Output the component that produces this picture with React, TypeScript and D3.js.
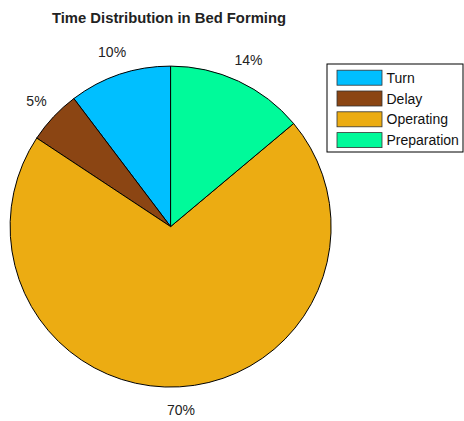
import React from "react";
import * as d3 from "d3";

// Shares of working time (percent)
const categories = ["Turn", "Delay", "Operating", "Preparation"];
const shares = [10.3, 5.4, 70.4, 13.9];
const colors = ["#00BFFF", "#8B4513", "#ECAC12", "#00FA9A"];
const title = "Time Distribution in Bed Forming";

const W = 464;
const H = 421;
const cx = 170.6;
const cy = 226.6;
const R = 160.5;
const labelR = 184;

export default function App() {
  // MATLAB-style pie: start at 12 o'clock and run counterclockwise
  const pie = d3
    .pie<number>()
    .sort(null)
    .value((d) => d)
    .startAngle(0)
    .endAngle(-2 * Math.PI);
  const arcs = pie(shares);
  const arcGen = d3.arc<d3.PieArcDatum<number>>().innerRadius(0).outerRadius(R);
  const total = d3.sum(shares);

  const legendX = 327;
  const legendY = 64;
  const rowH = 20.8;

  return (
    <svg
      width={W}
      height={H}
      style={{ position: "absolute", left: 0, top: 0, fontFamily: "'Liberation Sans', Arial, sans-serif" }}
    >
      <rect width={W} height={H} fill="#fff" />
      <text x={169} y={23.3} textAnchor="middle" fontSize={14.8} fontWeight="bold" fill="#222">
        {title}
      </text>
      <g transform={`translate(${cx},${cy})`}>
        {arcs.map((a, i) => (
          <path key={i} d={arcGen(a) || ""} fill={colors[i]} stroke="#000" strokeWidth={1} strokeLinejoin="round" />
        ))}
        {arcs.map((a, i) => {
          const mid = (a.startAngle + a.endAngle) / 2;
          const x = labelR * Math.sin(mid);
          const y = -labelR * Math.cos(mid);
          return (
            <text key={i} x={x} y={y} dy="0.36em" textAnchor="middle" fontSize={14} fill="#222">
              {`${Math.round((a.value / total) * 100)}%`}
            </text>
          );
        })}
      </g>
      <rect x={legendX} y={legendY} width={136} height={88} fill="#fff" stroke="#000" strokeWidth={1} />
      {categories.map((c, i) => {
        const yc = legendY + 13.7 + i * rowH;
        return (
          <g key={c}>
            <rect x={337} y={yc - 7.5} width={45} height={15} fill={colors[i]} stroke="#333" strokeWidth={0.8} />
            <text x={386.5} y={yc + 5} fontSize={14} fill="#111">
              {c}
            </text>
          </g>
        );
      })}
    </svg>
  );
}
